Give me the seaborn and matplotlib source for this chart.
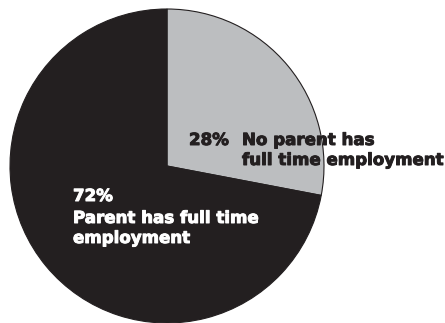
import matplotlib
matplotlib.use("Agg")
import matplotlib.pyplot as plt
import matplotlib.patheffects as pe
import seaborn as sns

# Share of children by parental employment status
categories = ["No parent has\nfull time employment", "Parent has full time\nemployment"]
shares = [28, 72]
colors = ["#bcbec0", "#231f20"]

sns.set_theme(style="white")
plt.rcParams["font.family"] = ["DejaVu Sans"]

W, H = 445, 323
fig = plt.figure(figsize=(W / 100, H / 100), dpi=100)
ax = fig.add_axes([0, 0, 1, 1])

cx, cy, r = 167, H - 166, 157
wedges, _ = ax.pie(
    shares,
    colors=colors,
    startangle=90,
    counterclock=False,
    center=(cx, cy),
    radius=r,
    wedgeprops=dict(edgecolor="#231f20", linewidth=0.8),
)
ax.set_xlim(0, W)
ax.set_ylim(0, H)
ax.set_aspect("equal")
ax.axis("off")

fs = 12.0


def put_lines(x, baselines, lines, color):
    for yb, line in zip(baselines, lines):
        ax.text(x, H - yb, line, fontsize=fs, fontweight="bold",
                color=color, ha="left", va="baseline",
                path_effects=[pe.withStroke(linewidth=0.7, foreground=color)])


# Small slice label: value and category side by side
put_lines(189, [145], [f"{shares[0]}%"], "#231f20")
put_lines(242, [145, 165], categories[0].split("\n"), "#231f20")
# Large slice label: value above category, in white
put_lines(73, [201, 223, 243],
          [f"{shares[1]}%"] + categories[1].split("\n"), "white")

fig.savefig("out.png", dpi=100, facecolor="white")
